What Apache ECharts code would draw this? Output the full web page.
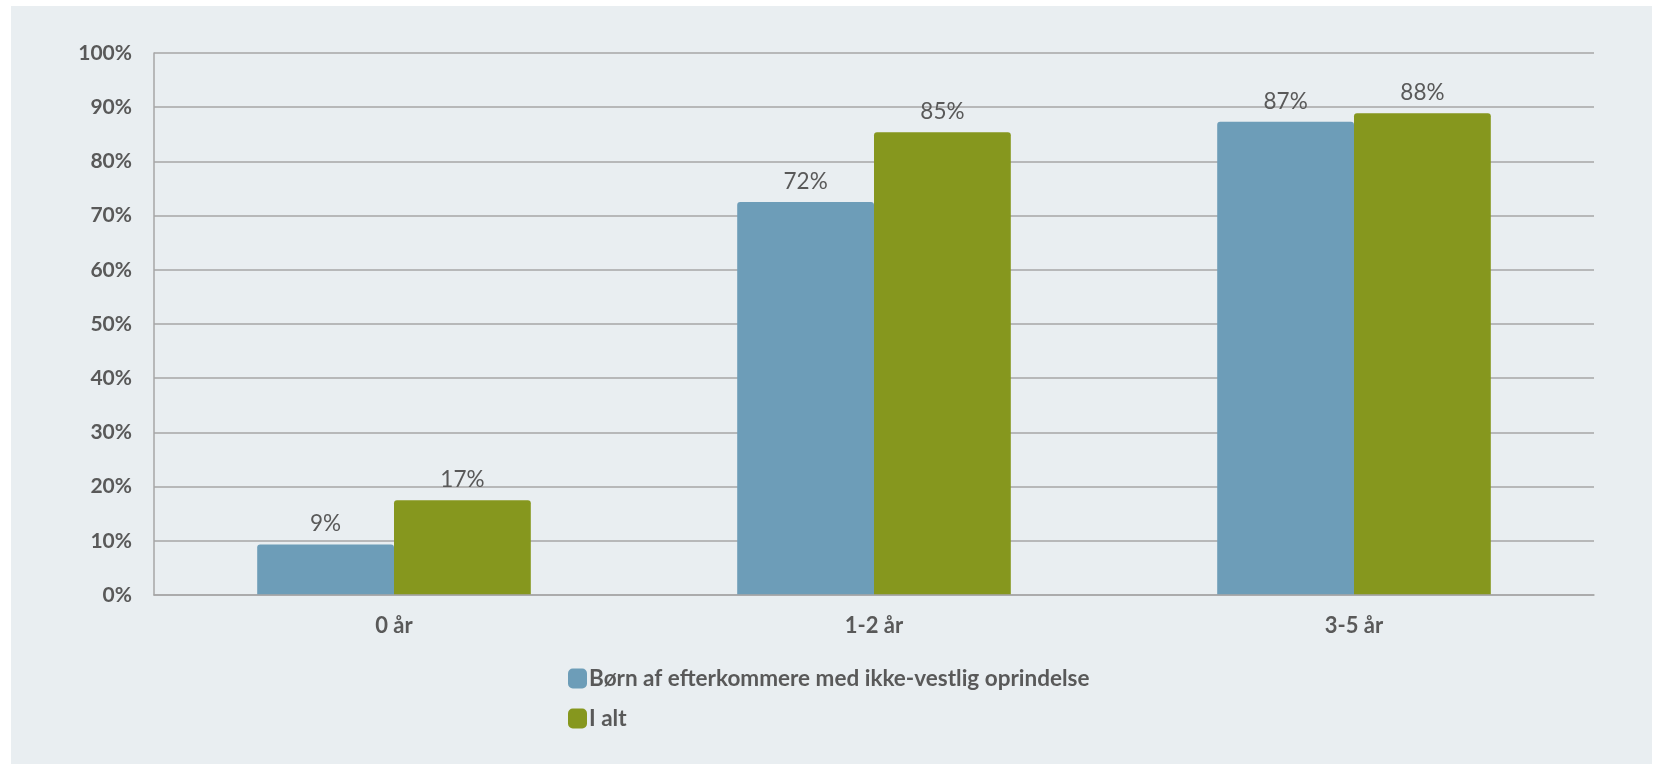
<!DOCTYPE html>
<html lang="da">

<head>
    <meta charset="utf-8">
    <title>Børn i dagtilbud</title>
    <script src="https://cdn.jsdelivr.net/npm/echarts@6/dist/echarts.min.js"></script>
    <style>
        html, body { margin: 0; padding: 0; background: #ffffff; }
        #main {
            position: absolute;
            left: 11px;
            top: 6px;
            width: 1641px;
            height: 758px;
            background: #e9eef1;
        }
    </style>
</head>

<body>
    <div id="main"></div>
    <script type="text/javascript">
        // data
        var categories = ['0 år', '1-2 år', '3-5 år'];
        var seriesNames = ['Børn af efterkommere med ikke-vestlig oprindelse', 'I alt'];
        var efterkommere = [9.3, 72.5, 87.3];
        var iAlt = [17.5, 85.4, 88.9];

        var textColor = '#595959';
        var fontFamily = 'Lato, "Open Sans", sans-serif';

        var myChart = echarts.init(document.getElementById('main'));

        function barLabel() {
            return {
                show: true,
                position: 'top',
                distance: 9,
                color: textColor,
                fontFamily: fontFamily,
                fontSize: 22.5,
                formatter: function (p) { return Math.floor(p.value) + '%'; }
            };
        }

        var option = {
            animation: false,
            color: ['#6d9db8', '#86971e'],
            grid: {
                left: 143,
                right: 58,
                top: 47,
                bottom: 169
            },
            legend: {
                orient: 'vertical',
                left: 552,
                top: 656,
                itemWidth: 19,
                itemHeight: 20,
                itemGap: 17,
                icon: 'roundRect',
                data: seriesNames,
                textStyle: {
                    color: textColor,
                    fontFamily: fontFamily,
                    fontWeight: 'bold',
                    fontSize: 22.5,
                    padding: [0, 0, 0, -3]
                }
            },
            xAxis: {
                type: 'category',
                data: categories,
                axisLine: { lineStyle: { color: '#a6a6a6', width: 1.5 } },
                axisTick: { show: false },
                axisLabel: {
                    margin: 20,
                    color: textColor,
                    fontFamily: fontFamily,
                    fontWeight: 'bold',
                    fontSize: 22
                },
                z: 3
            },
            yAxis: {
                type: 'value',
                min: 0,
                max: 100,
                interval: 10,
                axisLine: { show: true, lineStyle: { color: '#a6a6a6', width: 1.5 } },
                axisTick: { show: false },
                splitLine: { lineStyle: { color: '#a6a6a6', width: 1.5 } },
                axisLabel: {
                    margin: 22,
                    color: textColor,
                    fontFamily: fontFamily,
                    fontWeight: 'bold',
                    fontSize: 21,
                    formatter: '{value}%'
                }
            },
            series: [{
                name: seriesNames[0],
                type: 'bar',
                data: efterkommere,
                barWidth: '28.5%',
                barGap: '0%',
                itemStyle: { borderRadius: [3, 3, 0, 0] },
                label: barLabel()
            }, {
                name: seriesNames[1],
                type: 'bar',
                data: iAlt,
                barWidth: '28.5%',
                barGap: '0%',
                itemStyle: { borderRadius: [3, 3, 0, 0] },
                label: barLabel()
            }]
        };

        myChart.setOption(option);
    </script>
</body>

</html>
